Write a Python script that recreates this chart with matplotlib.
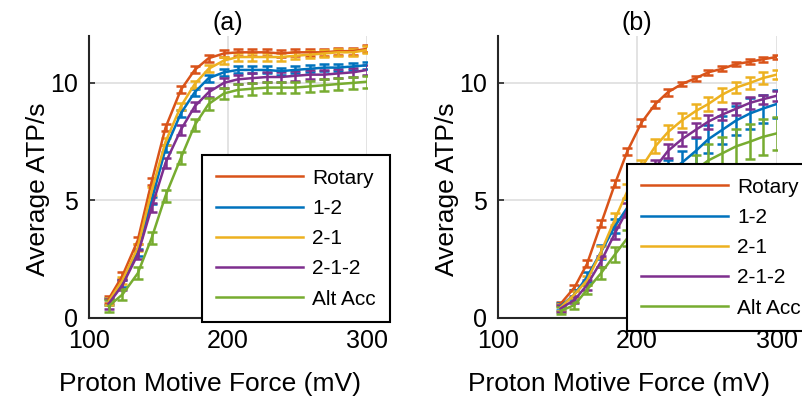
import numpy as np
import matplotlib
matplotlib.use("Agg")
import matplotlib.pyplot as plt
from matplotlib.lines import Line2D

plt.rcParams['font.family'] = ['Liberation Sans', 'DejaVu Sans']

# data
labels = ['Rotary', '1-2', '2-1', '2-1-2', 'Alt Acc']
colors = ['#D95319', '#0072BD', '#EDB120', '#7E2F8E', '#77AC30']

# panel (a)
xa = [114, 124, 135, 145, 155, 166, 176, 186, 197, 207, 217, 228, 238, 248, 259, 269, 279, 290, 300]
a_rotary = [0.8, 1.8, 3.3, 5.8, 8.1, 9.7, 10.55, 11.05, 11.25, 11.3, 11.3, 11.3, 11.25, 11.3, 11.3, 11.3, 11.35, 11.35, 11.45]
a_12 = [0.7, 1.45, 2.8, 5.0, 7.2, 8.7, 9.6, 10.2, 10.45, 10.55, 10.55, 10.55, 10.5, 10.55, 10.6, 10.65, 10.65, 10.7, 10.75]
a_21 = [0.7, 1.6, 3.0, 5.4, 7.5, 9.0, 9.95, 10.6, 10.95, 11.1, 11.1, 11.1, 11.1, 11.15, 11.2, 11.25, 11.3, 11.3, 11.4]
a_212 = [0.6, 1.4, 2.7, 4.7, 6.6, 8.0, 9.0, 9.6, 10.0, 10.15, 10.2, 10.25, 10.25, 10.3, 10.35, 10.35, 10.4, 10.45, 10.55]
a_alt = [0.5, 1.0, 1.9, 3.4, 5.2, 6.8, 8.2, 9.1, 9.55, 9.7, 9.75, 9.8, 9.8, 9.8, 9.85, 9.9, 9.95, 10.0, 10.05]
a_err = [0.15, 0.15, 0.15, 0.2, 0.25]

# panel (b)
xb = [145, 155, 164, 174, 184, 193, 203, 213, 222, 232, 242, 251, 261, 271, 281, 290, 300]
b_rotary = [0.6, 1.3, 2.3, 4.0, 5.7, 7.1, 8.3, 9.1, 9.6, 9.95, 10.2, 10.45, 10.6, 10.8, 10.9, 11.0, 11.1]
b_12 = [0.5, 1.0, 1.75, 2.8, 3.9, 4.7, 5.3, 5.8, 6.2, 6.6, 7.1, 7.6, 8.0, 8.4, 8.7, 8.9, 9.1]
b_21 = [0.45, 1.0, 1.6, 2.8, 4.2, 5.4, 6.4, 7.3, 7.9, 8.4, 8.8, 9.1, 9.5, 9.8, 10.0, 10.2, 10.35]
b_212 = [0.4, 0.77, 1.4, 2.4, 3.6, 4.6, 5.6, 6.4, 7.1, 7.6, 8.0, 8.35, 8.65, 8.9, 9.15, 9.3, 9.45]
b_alt = [0.3, 0.55, 1.2, 1.9, 2.7, 3.4, 4.1, 4.7, 5.3, 5.8, 6.3, 6.7, 7.0, 7.3, 7.5, 7.7, 7.85]
b_err_rotary = [0.1, 0.1, 0.15, 0.15, 0.15, 0.15, 0.15, 0.15, 0.15, 0.1, 0.1, 0.1, 0.1, 0.1, 0.1, 0.1, 0.1]
b_err_12 = [0.15, 0.2, 0.2, 0.3, 0.3, 0.35, 0.4, 0.45, 0.5, 0.5, 0.55, 0.6, 0.6, 0.6, 0.65, 0.6, 0.6]
b_err_21 = [0.15, 0.15, 0.2, 0.25, 0.25, 0.3, 0.3, 0.3, 0.3, 0.3, 0.3, 0.3, 0.3, 0.25, 0.25, 0.25, 0.2]
b_err_212 = [0.15, 0.15, 0.2, 0.25, 0.25, 0.3, 0.3, 0.3, 0.3, 0.3, 0.3, 0.3, 0.25, 0.25, 0.25, 0.2, 0.2]
b_err_alt = [0.15, 0.15, 0.2, 0.25, 0.3, 0.35, 0.4, 0.5, 0.55, 0.6, 0.65, 0.7, 0.7, 0.75, 0.75, 0.75, 0.7]

fig = plt.figure(figsize=(8.03, 4.03), dpi=100)
ax1 = fig.add_axes([0.111, 0.211, 0.346, 0.700])
ax2 = fig.add_axes([0.620, 0.211, 0.347, 0.700])

series_a = [a_rotary, a_12, a_21, a_212, a_alt]
series_b = [b_rotary, b_12, b_21, b_212, b_alt]
errs_b = [b_err_rotary, b_err_12, b_err_21, b_err_212, b_err_alt]

for i in range(5):
    ax1.errorbar(xa, series_a[i], yerr=a_err[i], color=colors[i], lw=1.8,
                 elinewidth=1.8, capsize=3.8, capthick=1.8)
    ax2.errorbar(xb, series_b[i], yerr=errs_b[i], color=colors[i], lw=1.8,
                 elinewidth=1.8, capsize=3.8, capthick=1.8)

for ax, title in [(ax1, '(a)'), (ax2, '(b)')]:
    ax.set_xlim(100, 300)
    ax.set_ylim(0, 12)
    ax.set_xticks([100, 200, 300])
    ax.set_yticks([0, 5, 10])
    ax.grid(True, color='#dedede', lw=1.2)
    ax.set_axisbelow(True)
    ax.spines['top'].set_visible(False)
    ax.spines['right'].set_visible(False)
    for s in ['left', 'bottom']:
        ax.spines[s].set_color('#262626')
        ax.spines[s].set_linewidth(1.5)
    ax.tick_params(direction='in', length=4, width=1.2, colors='#262626',
                   labelsize=18, labelcolor='black', pad=8)
    ax.set_xlabel('Proton Motive Force (mV)', fontsize=19)
    ax.set_ylabel('Average ATP/s', fontsize=19)
    ax.xaxis.set_label_coords(0.435, -0.19)
    ax.yaxis.set_label_coords(-0.14, 0.455)
    ax.set_title(title, fontsize=18, pad=4)

handles = [Line2D([], [], color=c, lw=1.8) for c in colors]
leg_pos = [(202 / 803, 1 - 155 / 403), (627 / 803, 1 - 164 / 403)]
for ax, pos in zip([ax1, ax2], leg_pos):
    leg = ax.legend(handles, labels, loc='upper left', bbox_to_anchor=pos,
                    bbox_transform=fig.transFigure, borderaxespad=0,
                    fontsize=15, fancybox=False, framealpha=1, edgecolor='black',
                    handlelength=4.2, handletextpad=0.45, labelspacing=0.54,
                    borderpad=0.65)
    leg.get_frame().set_linewidth(1.5)

fig.savefig('out.png', dpi=100)
